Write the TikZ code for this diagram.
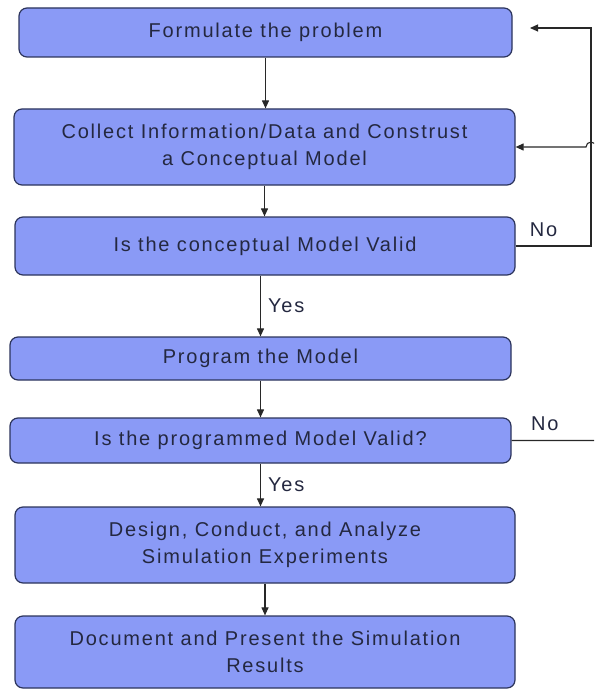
\documentclass[tikz,border=0pt]{standalone}
\usepackage{fontspec}
\setmainfont{Liberation Sans}[LetterSpace=9]
\usetikzlibrary{arrows.meta,positioning}
\definecolor{boxfill}{RGB}{138,154,246}
\definecolor{boxedge}{RGB}{44,52,92}
\definecolor{inkdark}{RGB}{36,40,64}
\definecolor{wiregray}{RGB}{40,40,40}
\tikzset{
  stage/.style={draw=boxedge,line width=1.2pt,fill=boxfill,rounded corners=8pt,
    align=center,inner sep=0pt,text=inkdark,
    font=\fontsize{20}{27}\selectfont},
  flow/.style={-{Triangle[length=8pt,width=7pt]},line width=1.1pt,draw=wiregray},
  lab/.style={font=\fontsize{20}{22}\selectfont,text=inkdark,inner sep=0pt}
}

\begin{document}
\begin{tikzpicture}[x=1pt,y=-1pt]
  \useasboundingbox (0,0) rectangle (594,690);
  \clip (0,0) rectangle (594,690);
  % the stages
  \node[stage,minimum width=493pt,minimum height=49pt] (formulate) at (265.5,32.5)
    {Formulate the problem};
  \node[stage,minimum width=501pt,minimum height=76pt] (collect) at (264.5,147)
    {Collect Information/Data and Construst\\a Conceptual Model};
  \node[stage,minimum width=500pt,minimum height=58pt] (concvalid) at (265,246)
    {Is the conceptual Model Valid};
  \node[stage,minimum width=501pt,minimum height=43pt] (program) at (260.5,358.5)
    {Program the Model};
  \node[stage,minimum width=501pt,minimum height=45pt] (progvalid) at (260.5,440.5)
    {Is the programmed Model Valid?};
  \node[stage,minimum width=500pt,minimum height=76pt] (design) at (265,545)
    {Design, Conduct, and Analyze\\Simulation Experiments};
  \node[stage,minimum width=500pt,minimum height=72pt] (document) at (265,652)
    {Document and Present the Simulation\\Results};
  \coordinate (rail) at (591,0);
  \coordinate (outer) at (604,0);
  \coordinate (back) at (530,28);
  % main line
  \draw[flow] (formulate.south) -- (formulate.south |- collect.north);
  \draw[flow] (collect.south) -- (collect.south |- concvalid.north);
  \draw[flow] (program.north |- concvalid.south) -- node[lab,right=7pt]{Yes} (program.north);
  \draw[flow] (program) -- (progvalid);
  \draw[flow] (progvalid.south) -- node[lab,right=7pt]{Yes} (progvalid.south |- design.north);
  \draw[flow] (design.south) -- (document.north);
  % loops back
  \draw[flow] (concvalid.east) -- node[lab,above=9pt,pos=0.37]{No} (concvalid.east -| rail)
    |- (back);
  \draw[flow] (progvalid.east) -- node[lab,above=9pt,pos=0.36]{No} (progvalid.east -| outer)
    -- (collect.east -| outer) -- ++(-8,0) arc[start angle=0,end angle=-180,radius=5]
    -- (collect.east);
\end{tikzpicture}
\end{document}
